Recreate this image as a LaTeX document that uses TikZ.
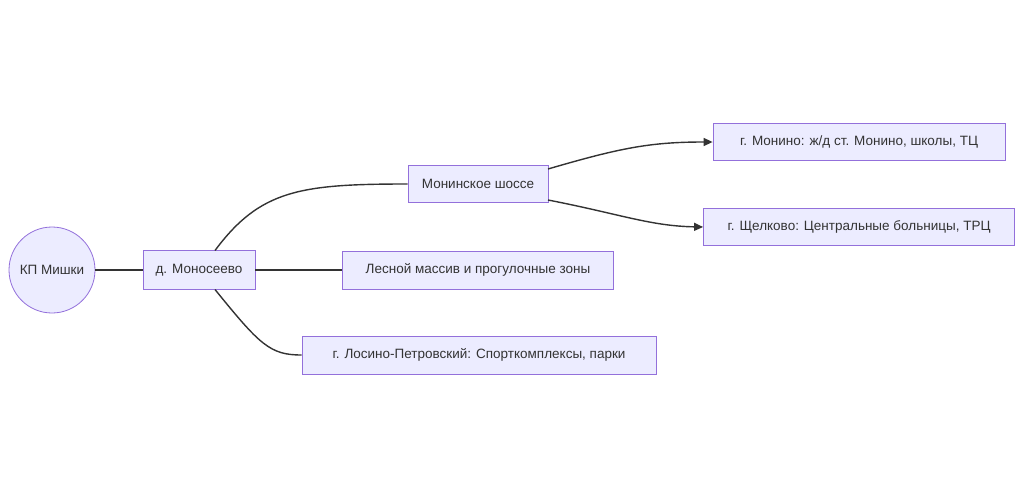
\documentclass[tikz,border=0pt]{standalone}
\usepackage{fontspec}
\setmainfont{Liberation Sans}
\usetikzlibrary{arrows.meta}
\definecolor{fillc}{HTML}{ECECFF}
\definecolor{bordc}{HTML}{9370DB}
\definecolor{linec}{HTML}{333333}
\begin{document}
\begin{tikzpicture}[x=1pt,y=-1pt,
  box/.style={draw=bordc,fill=fillc,line width=0.8pt,inner sep=0pt,font=\fontsize{13.5}{15}\selectfont,text=linec},
  edge/.style={draw=linec,line width=1.4pt},
  arr/.style={edge,-{Triangle[length=9pt,width=8pt]}}]
\useasboundingbox (0,0) rectangle (1024,487);
\node[box,circle,minimum size=86pt] (kp) at (52,270) {КП Мишки};
\node[box,minimum width=112pt,minimum height=39pt] (mon) at (199,270) {д. Моносеево};
\node[box,minimum width=140pt,minimum height=37pt] (sh) at (478,184) {Монинское шоссе};
\node[box,minimum width=271pt,minimum height=38pt] (les) at (478,270) {Лесной массив и прогулочные зоны};
\node[box,minimum width=354pt,minimum height=38pt] (los) at (479,355) {г. Лосино-Петровский: Спорткомплексы, парки};
\node[box,minimum width=292pt,minimum height=37pt] (mn) at (859,142) {г. Монино: ж/д ст. Монино, школы, ТЦ};
\node[box,minimum width=311pt,minimum height=37pt] (sc) at (859,227) {г. Щелково: Центральные больницы, ТРЦ};
\draw[edge] (kp) -- (mon);
\draw[edge] (mon.west -| 215,0) ++(0,-19.5) coordinate (a) ;
\draw[edge] (215,250.5) .. controls (260,190) and (300,184) .. (sh.west);
\draw[edge] (mon) -- (les);
\draw[edge] (215,289.5) .. controls (260,345) and (270,355) .. (los.west);
\draw[arr] (548,169) .. controls (620,148) and (650,142) .. (mn.west);
\draw[arr] (548,200) .. controls (620,214) and (650,226) .. (sc.west);
\end{tikzpicture}
\end{document}
